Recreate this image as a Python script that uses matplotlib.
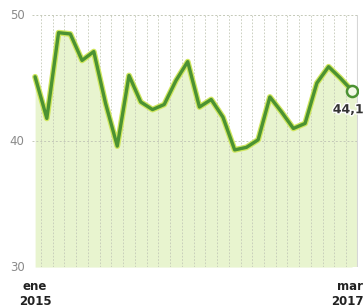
import matplotlib.pyplot as plt
import matplotlib.patheffects as pe

# monthly values
values = [45.1, 41.8, 48.6, 48.5, 46.4, 47.1, 43.0, 39.6, 45.2, 43.1,
          42.5, 42.9, 44.8, 46.3, 42.7, 43.3, 41.9, 39.3, 39.5, 40.1,
          43.5, 42.3, 41.0, 41.4, 44.6, 45.9, 45.0, 44.0]
last_label = "44,1"
first_tick = "ene\n2015"
last_tick = "mar\n2017"
y_ticks = [30, 40, 50]

x = list(range(len(values)))
n = len(values)

fig = plt.figure(figsize=(3.64, 3.07), dpi=100)
ax = fig.add_axes([0.088, 0.130, 0.895, 0.821])

ax.set_xlim(-0.26, n - 1 + 0.49)
ax.set_ylim(30, 50)

# light green area under the curve
ax.fill_between(x, values, 30, color="#e8f4cf", zorder=1, linewidth=0)
ax.axvspan(n - 1, n - 1 + 0.49, ymax=(values[-1] - 30) / 20, color="#e8f4cf",
           zorder=1, linewidth=0)

# dashed grid
for xv in [i + 0.5 for i in range(n - 1)]:
    ax.axvline(xv, color="#c4c9b8", lw=0.6, ls=(0, (2, 2)), zorder=2)
for yv in [40, 50]:
    ax.axhline(yv, color="#c4c9b8", lw=0.7, ls=(0, (2, 2)), zorder=2)
ax.axhline(30, color="#cdd1c4", lw=0.7, ls=(0, (2, 2)), zorder=2)
ax.axvline(n - 1 + 0.45, color="#d6d6d6", lw=0.8, zorder=2)

# line with soft halo
ax.plot(x, values, color="#cfe65e", lw=4.2, zorder=3, solid_joinstyle="round",
        solid_capstyle="round")
ax.plot(x, values, color="#4b9232", lw=2.4, zorder=4, solid_joinstyle="round",
        solid_capstyle="round")
ax.plot(x[-1], values[-1], "o", ms=8, mfc="#f3f9e6", mec="#4b9232", mew=1.8, zorder=5)

ax.text(x[-1] + 1.0, values[-1] - 1.0, last_label, ha="right", va="top",
        fontsize=9, fontweight="bold", color="#333333", zorder=6,
        path_effects=[pe.withStroke(linewidth=2, foreground="white")])

for spine in ax.spines.values():
    spine.set_visible(False)
ax.set_xticks([])
ax.set_yticks([])

for yv in y_ticks:
    ax.text(-0.9, yv, str(yv), ha="right", va="center", fontsize=8.5, color="#8a8a8a")

ax.text(0, 29.0, first_tick, ha="center", va="top", fontsize=8.5,
        fontweight="bold", color="#222222", linespacing=1.2)
ax.text(n - 1 + 0.95, 29.0, last_tick, ha="right", va="top", fontsize=8.5,
        fontweight="bold", color="#222222", linespacing=1.2)

fig.savefig("out.png", dpi=100, facecolor="white")
